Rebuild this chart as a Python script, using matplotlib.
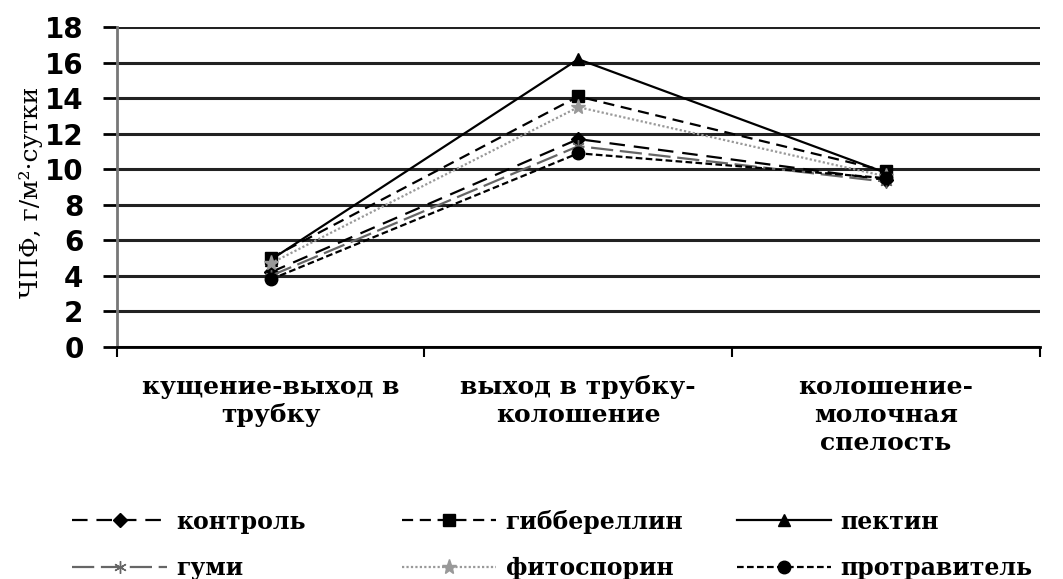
import matplotlib.pyplot as plt
import numpy as np

stages = ["кущение-выход в\nтрубку", "выход в трубку-\nколошение",
          "колошение-\nмолочная\nспелость"]
control = [4.2, 11.7, 9.4]
gibberellin = [5.0, 14.1, 9.9]
pectin = [4.9, 16.2, 9.8]
gumi = [4.0, 11.3, 9.3]
fitosporin = [4.7, 13.5, 9.6]
protravitel = [3.8, 10.9, 9.5]
yticks = list(range(0, 20, 2))

serif = "DejaVu Serif"

fig = plt.figure(figsize=(10.63, 5.79), dpi=100)
ax = fig.add_axes([0.110, 0.401, 0.868, 0.552])

x = np.arange(len(stages))
# серии: подпись, данные, стиль линии, маркер, цвет, размер маркера
series = [
    ("контроль", control, (0, (7, 4)), "D", "black", 7),
    ("гиббереллин", gibberellin, (0, (5, 3)), "s", "black", 9),
    ("пектин", pectin, "-", "^", "black", 9),
    ("гуми", gumi, (0, (10, 3)), (6, 2, 0), "#666666", 9),
    ("фитоспорин", fitosporin, (0, (1, 1)), "*", "#999999", 11),
    ("протравитель", protravitel, (0, (3, 1.5)), "o", "black", 9),
]
lines = []
for name, vals, ls, mk, col, ms in series:
    ln, = ax.plot(x, vals, linestyle=ls, marker=mk, color=col, lw=1.6,
                  markersize=ms, markerfacecolor=col, markeredgecolor=col,
                  label=name)
    lines.append(ln)

ax.set_xlim(-0.5, 2.5)
ax.set_ylim(0, 18)
ax.set_yticks(yticks)
ax.set_yticklabels([str(v) for v in yticks], fontsize=20, fontweight="bold",
                   family="DejaVu Sans")
ax.yaxis.grid(True, color="#222222", lw=2.2)
ax.set_axisbelow(True)

ax.set_xticks([-0.5, 0.5, 1.5, 2.5])
ax.set_xticklabels([])
ax.tick_params(axis="x", length=7, width=1.5, direction="out")
ax.tick_params(axis="y", length=10, width=2, pad=14)
for i, s in enumerate(stages):
    ax.text(i, -1.6, s, ha="center", va="top", fontsize=18,
            fontweight="bold", family=serif, linespacing=1.2)

for side in ["top", "right"]:
    ax.spines[side].set_visible(False)
ax.spines["left"].set_color("#777777")
ax.spines["left"].set_linewidth(2)
ax.spines["bottom"].set_linewidth(2)

fig.text(0.029, 0.668, "ЧПФ, г/м²·сутки", rotation=90, ha="center",
         va="center", fontsize=18, family=serif)

# легенда: три колонки по две строки
col_x = [0.068, 0.378, 0.693]
for k, cx in enumerate(col_x):
    fig.legend(handles=[lines[k], lines[k + 3]], loc="upper left",
               bbox_to_anchor=(cx, 0.12), frameon=False,
               prop={"family": serif, "size": 17, "weight": "bold"},
               handlelength=4.0, handletextpad=0.4, labelspacing=0.95,
               borderpad=0, borderaxespad=0)

fig.savefig("out.png", dpi=100)
